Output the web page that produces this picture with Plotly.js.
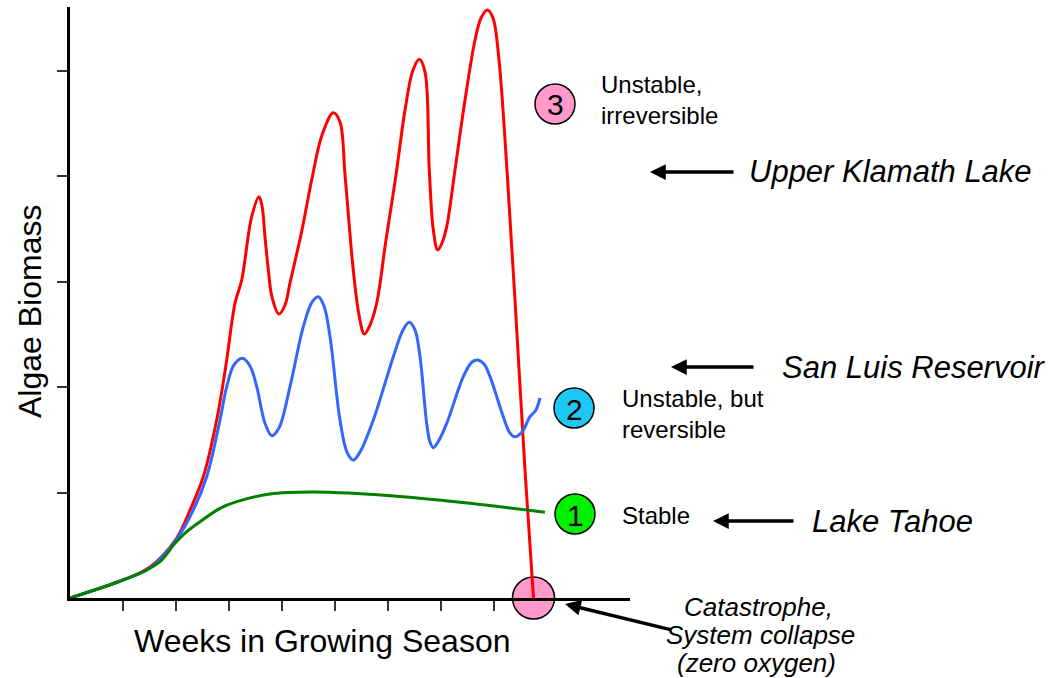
<!DOCTYPE html>
<html>
<head>
<meta charset="utf-8">
<script src="https://cdn.plot.ly/plotly-3.0.1.min.js"></script>
<style>html,body{margin:0;padding:0;background:#fff;}#chart{width:1052px;height:678px;}</style>
</head>
<body>
<div id="chart"></div>
<script>
// Weeks (x) and algae biomass (y, in tick units)
const redX = [0, 1.0, 1.509, 2.013, 2.264, 2.515, 2.768, 2.943, 3.113, 3.240, 3.428, 3.566, 3.623, 3.679, 3.742, 3.811, 3.943, 4.057, 4.151, 4.377, 4.560, 4.755, 4.968, 5.094, 5.189, 5.345, 5.453, 5.553, 5.660, 5.787, 5.962, 6.151, 6.321, 6.472, 6.591, 6.698, 6.779, 6.855, 6.938, 7.019, 7.108, 7.264, 7.453, 7.642, 7.755, 7.874, 7.981, 8.094, 8.245, 8.396, 8.585, 8.745];
const redY = [0, 0.171, 0.294, 0.569, 0.835, 1.151, 1.689, 2.211, 2.796, 3.017, 3.618, 3.807, 3.719, 3.425, 3.112, 2.856, 2.694, 2.780, 2.989, 3.491, 3.966, 4.393, 4.604, 4.516, 4.013, 3.112, 2.685, 2.505, 2.590, 2.799, 3.397, 4.013, 4.630, 5.009, 5.111, 4.991, 4.061, 3.491, 3.302, 3.368, 3.523, 4.061, 4.725, 5.294, 5.503, 5.579, 5.503, 5.104, 4.061, 2.827, 1.214, 0];

const blueX = [0, 1.0, 1.509, 2.0, 2.326, 2.579, 2.830, 2.957, 3.094, 3.251, 3.396, 3.523, 3.679, 3.806, 3.943, 4.151, 4.402, 4.566, 4.685, 4.792, 4.906, 5.094, 5.226, 5.345, 5.472, 5.723, 6.100, 6.283, 6.402, 6.509, 6.604, 6.730, 6.792, 6.855, 6.943, 7.108, 7.421, 7.585, 7.692, 7.811, 7.925, 8.175, 8.302, 8.396, 8.528, 8.679, 8.792, 8.868];
const blueY = [0, 0.171, 0.285, 0.550, 0.835, 1.151, 1.689, 2.005, 2.211, 2.274, 2.201, 2.005, 1.658, 1.540, 1.613, 2.005, 2.574, 2.808, 2.859, 2.770, 2.479, 1.689, 1.385, 1.309, 1.385, 1.689, 2.289, 2.543, 2.616, 2.543, 2.289, 1.657, 1.480, 1.426, 1.480, 1.657, 2.100, 2.239, 2.258, 2.220, 2.100, 1.720, 1.565, 1.530, 1.575, 1.720, 1.784, 1.898];

const greenX = [0, 1.006, 1.447, 1.698, 1.981, 2.202, 2.453, 2.830, 3.145, 3.774, 4.585, 5.340, 6.283, 7.547, 8.962];
const greenY = [0, 0.171, 0.266, 0.344, 0.519, 0.629, 0.724, 0.851, 0.914, 0.987, 1.006, 0.993, 0.961, 0.898, 0.813];

const xTicks = [1, 2, 3, 4, 5, 6, 7, 8];
const yTicks = [1, 2, 3, 4, 5];

const xTitle = "Weeks in Growing Season";
const yTitle = "Algae Biomass";
const stateLabels = ["Unstable,<br>irreversible", "Unstable, but<br>reversible", "Stable"];
const stateNumbers = ["3", "2", "1"];
const lakeNames = ["Upper Klamath Lake", "San Luis Reservoir", "Lake Tahoe"];
const collapseLines = ["Catastrophe,", "System collapse", "(zero oxygen)"];

// Layout geometry (pixels)
const W = 1052, H = 678;
const L = 70, R = 422, T = 7, B = 80;
const plotW = W - L - R, plotH = H - T - B;
const px = x => (x - L) / plotW;          // pixel -> paper x
const py = y => (H - B - y) / plotH;      // pixel -> paper y

const FONT = "Liberation Sans, Arial, sans-serif";

const traces = [
  {x: redX, y: redY, mode: 'lines', line: {color: '#FF0000', width: 3, shape: 'spline', smoothing: 1}, hoverinfo: 'skip', cliponaxis: false},
  {x: blueX, y: blueY, mode: 'lines', line: {color: '#3366FF', width: 3, shape: 'spline', smoothing: 1}, hoverinfo: 'skip', cliponaxis: false},
  {x: greenX, y: greenY, mode: 'lines', line: {color: '#008000', width: 3, shape: 'spline', smoothing: 1}, hoverinfo: 'skip', cliponaxis: false}
];

function circle(cx, cy, r, color) {
  return {type: 'circle', xref: 'paper', yref: 'paper', xsizemode: 'pixel', ysizemode: 'pixel',
    xanchor: px(cx), yanchor: py(cy), x0: -r, x1: r, y0: -r, y1: r,
    fillcolor: color, line: {color: '#000', width: 1.5}, layer: 'below'};
}

const shapes = [
  circle(555, 104, 20, '#FF99CC'),
  circle(574, 408, 20, '#1EC8F5'),
  circle(575, 514, 20, '#00F000'),
  circle(533.5, 598, 21, '#FF99CC')
];

function txt(text, x, y, size, opts) {
  return Object.assign({text: text, xref: 'paper', yref: 'paper', x: px(x), y: py(y),
    xanchor: 'center', yanchor: 'middle',
    showarrow: false, font: {family: FONT, size: size, color: '#000'}}, opts || {});
}
function arrow(hx, hy, tx, ty) {
  return {text: '', xref: 'paper', yref: 'paper', x: px(hx), y: py(hy), ax: tx - hx, ay: ty - hy,
    showarrow: true, arrowhead: 2, arrowsize: 0.9, arrowwidth: 3.5, arrowcolor: '#000', standoff: 0, startstandoff: 0};
}

const annotations = [
  txt(yTitle, 30, 312, 32, {textangle: -90}),
  txt(xTitle, 322, 641, 32),
  txt(stateNumbers[0], 555, 105, 30),
  txt(stateNumbers[1], 574, 409, 30),
  txt(stateNumbers[2], 575, 515, 30),
  txt(stateLabels[0], 599, 100, 24, {xanchor: 'left', align: 'left'}),
  txt(stateLabels[1], 620, 414, 24, {xanchor: 'left', align: 'left'}),
  txt(stateLabels[2], 620, 515, 24, {xanchor: 'left', align: 'left'}),
  txt('<i>' + lakeNames[0] + '</i>', 747, 172, 31, {xanchor: 'left'}),
  txt('<i>' + lakeNames[1] + '</i>', 780, 367, 31, {xanchor: 'left'}),
  txt('<i>' + lakeNames[2] + '</i>', 810, 521, 31, {xanchor: 'left'}),
  txt('<i>' + collapseLines[0] + '</i>', 758, 607, 26),
  txt('<i>' + collapseLines[1] + '</i>', 760, 635, 26),
  txt('<i>' + collapseLines[2] + '</i>', 756, 663, 26),
  arrow(650, 172, 735, 172),
  arrow(671, 367, 755, 367),
  arrow(713, 521, 795, 521),
  arrow(565, 604, 672, 630)
];

const axisCommon = {showline: true, linewidth: 3, linecolor: '#000', ticks: 'outside', ticklen: 10, tickwidth: 2,
  tickcolor: '#333', showticklabels: false, showgrid: false, zeroline: false, fixedrange: true, tickmode: 'array'};

const layout = {
  width: W, height: H,
  margin: {l: L, r: R, t: T, b: B, pad: 0},
  paper_bgcolor: '#fff', plot_bgcolor: 'rgba(0,0,0,0)',
  showlegend: false,
  xaxis: Object.assign({}, axisCommon, {range: [0, plotW / 53], tickvals: xTicks}),
  yaxis: Object.assign({}, axisCommon, {range: [0, plotH / 105.4], tickvals: yTicks}),
  shapes: shapes,
  annotations: annotations
};

Plotly.newPlot('chart', traces, layout, {displayModeBar: false, staticPlot: true});
</script>
</body>
</html>
